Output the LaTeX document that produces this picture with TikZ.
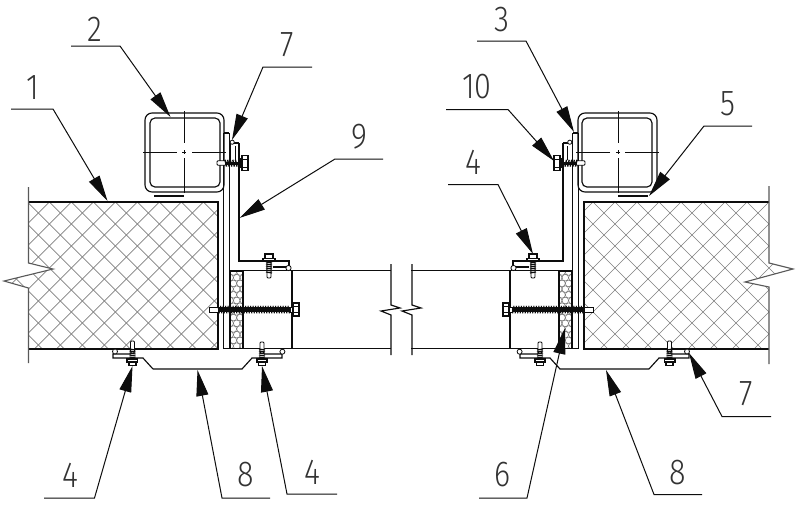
\documentclass[tikz,border=0pt]{standalone}
\usepackage{fontspec}
\setmainfont[FakeStretch=0.85]{Fira Sans Light}
\usetikzlibrary{arrows.meta}
\definecolor{ink}{gray}{0.05}
\tikzset{
  thickline/.style={draw=ink,line width=1.35pt,line join=miter},
  midline/.style={draw=ink,line width=1.15pt},
  thinline/.style={draw=ink,line width=0.8pt},
  sideline/.style={draw=black!65,line width=1.1pt},
  hatchline/.style={draw=black!50,line width=0.65pt},
  foamdot/.style={draw=black!60,line width=0.45pt},
  leader/.style={draw=ink,line width=1pt,-{Triangle[length=26pt,width=12pt]}},
  numlabel/.style={font=\fontsize{36}{36}\selectfont,text=black!80,inner sep=0pt,anchor=center},
}
\newcommand{\halfassembly}{%
  % square tube
  \draw[midline,rounded corners=7pt] (145,113) rectangle (224,192);
  \draw[midline,rounded corners=5pt] (150,118) rectangle (220,187);
  % centre lines
  \draw[thinline] (184,111) -- (184,143) (184,158) -- (184,193)
                  (143,152) -- (177,152) (192,152) -- (226,152)
                  (182,152) -- (186,152) (184,150) -- (184,154);
  \draw[thickline] (154,196) -- (184,196);
  % uprights
  \draw[midline] (224,133) -- (229,133);
  \draw[midline] (223.5,133) -- (223.5,348.5) -- (243,348.5);
  \draw[midline] (229.5,133) -- (229.5,348.5);
  \draw[midline] (231,143) -- (239,143);
  \draw[midline] (239,143) -- (239,261) -- (289,261) -- (289,267);
  \draw[thinline] (230,160) -- (230,143) (235,146) -- (235,160);
  \draw[thinline,fill=white] (232.2,142.2) circle (2.1);
  % upper screw
  \draw[thinline,fill=white,rounded corners=1pt] (217,160.8) rectangle (226,165.2);
  \fill[ink] (225,161.5) rectangle (238,165);
  \foreach \t in {225,227.6,...,237} \draw[line width=1.4pt,draw=ink] (\t,159.8) -- (\t+1.6,166.6);
  \draw[midline,fill=white] (240,159) rectangle (242,167);
  \draw[midline,fill=white] (242,155.5) rectangle (248,170.5);
  \draw[thinline] (242,159) -- (248,159) (242,167) -- (248,167);
  % foam strip
  \begin{scope}
    \clip (230,271) rectangle (243,348.5);
    \foreach \r in {0,...,7} {
      \draw[foamdot] (233.4,{272+11.4*\r}) circle (3.3);
      \draw[foamdot] (240,{272+11.4*\r}) circle (3.3);
      \draw[foamdot] (236.7,{277.7+11.4*\r}) circle (3.3);
      \draw[foamdot] (230.1,{277.7+11.4*\r}) circle (3.3);
      \draw[foamdot] (243.3,{277.7+11.4*\r}) circle (3.3);
    }
  \end{scope}
  \draw[midline] (230,271) rectangle (243,348.5);
  % box section
  \draw[midline] (243,270.5) -- (292,270.5) -- (292,348.5) -- (243,348.5);
  \draw[thickline] (292,270.5) -- (391,270.5) (292,348.5) -- (391,348.5);
  % through bolt
  \draw[thinline,fill=white] (209,307.5) rectangle (218,312);
  \fill[ink] (218,307) rectangle (290,312);
  \foreach \t in {218,220.5,...,288} \draw[line width=1.1pt,draw=ink] (\t,305.8) -- (\t+1.4,313.4);
  \draw[thinline,fill=white] (290,307) rectangle (292.5,312);
  \draw[midline,fill=white] (293,303) rectangle (299,316);
  \draw[thinline] (293,306.5) -- (299,306.5) (293,312.5) -- (299,312.5);
  % top clip and screw
  \draw[midline] (273,267) -- (286,267);
  \draw[thinline,fill=white] (288.5,268) circle (2.6);
  \draw[thinline,fill=white,rounded corners=1pt] (267,262) rectangle (271,278);
  \foreach \t in {262,264,...,272} \draw[line width=1.2pt,draw=ink] (266,\t) -- (272,\t+1);
  \draw[midline,fill=white] (263,258.5) rectangle (275,261);
  \draw[midline,fill=white] (265,254) rectangle (273,258.5);
  % bottom clip 1
  \draw[midline] (153,369) -- (242,369) -- (252,358) -- (282,358) -- (282,354) -- (264,354);
  \draw[thinline,fill=white] (282.4,351.7) circle (2.5);
  \draw[thinline,fill=white,rounded corners=1pt] (260,342) rectangle (264,353);
  \foreach \t in {349,351,...,357} \draw[line width=1.2pt,draw=ink] (259,\t) -- (265,\t+1);
  \draw[midline,fill=white] (257,359) rectangle (267,362);
  \draw[midline,fill=white] (258.5,362) rectangle (265.5,365.5);
  % bottom clip 2
  \draw[midline] (153,369) -- (143,358) -- (113,358) -- (113,354) -- (131,354);
  \draw[thinline,fill=white] (115,351.5) circle (2.5);
  \draw[thinline,fill=white,rounded corners=1pt] (130.5,341) rectangle (134.5,353);
  \foreach \t in {349,351,...,357} \draw[line width=1.2pt,draw=ink] (129.5,\t) -- (135.5,\t+1);
  \draw[midline,fill=white] (127,359) rectangle (137.5,362);
  \draw[midline,fill=white] (129,362) rectangle (136,365.5);
}
\begin{document}
\begin{tikzpicture}[x=1pt,y=-1pt]
\useasboundingbox (0,0) rectangle (800,509);
\fill[white] (0,0) rectangle (800,509);
% insulated panels: hatching
\begin{scope}
  \clip (28.5,202) -- (28.5,263) -- (53,269) -- (4,281) -- (28.5,288) -- (28.5,349) -- (218,349) -- (218,202) -- cycle;
  \foreach \k in {-1,...,15} \draw[hatchline] ({251.3+22*\k-190},190) -- ({251.3+22*\k-360},360);
  \foreach \k in {-8,...,8} \draw[hatchline] ({-152.7+22*\k+190},190) -- ({-152.7+22*\k+360},360);
\end{scope}
\begin{scope}
  \clip (584,202) -- (584,349) -- (769,349) -- (769,287) -- (745,282) -- (793,269) -- (769,263) -- (769,202) -- cycle;
  \foreach \k in {-1,...,16} \draw[hatchline] ({795+22*\k-190},190) -- ({795+22*\k-360},360);
  \foreach \k in {-8,...,10} \draw[hatchline] ({391+22*\k+190},190) -- ({391+22*\k+360},360);
\end{scope}
% left panel outline
\draw[thickline] (28.5,202) -- (218,202) -- (218,349) -- (28.5,349);
\draw[sideline] (28.5,187) -- (28.5,263) -- (53,269) -- (4,281) -- (28.5,288) -- (28.5,363);
% right panel outline
\draw[thickline] (769,202) -- (584,202) -- (584,349) -- (769,349);
\draw[sideline] (769,186) -- (769,263) -- (793,269) -- (745,282) -- (769,287) -- (769,364);
% assemblies
\halfassembly
\begin{scope}[xshift=802pt,xscale=-1]
  \halfassembly
\end{scope}
% break lines of the central panel
\draw[midline] (391,264) -- (391,305) -- (400,308) -- (381,311) -- (391,315) -- (391,355);
\draw[midline] (412,264) -- (412,305) -- (421,308) -- (402,311) -- (412,315) -- (412,355);
% label nodes
\node[numlabel] (n1)  at (33,88)   {1};
\node[numlabel] (n2)  at (95,29)   {2};
\node[numlabel] (n7a) at (287,45)  {7};
\node[numlabel] (n9)  at (359,137) {9};
\node[numlabel] (n3)  at (502,20)  {3};
\node[numlabel] (n10) at (477,87)  {10};
\node[numlabel] (n5)  at (728,104) {5};
\node[numlabel] (n4a) at (473,162) {4};
\node[numlabel] (n4b) at (70,475)  {4};
\node[numlabel] (n8a) at (246,475) {8};
\node[numlabel] (n4c) at (312,472) {4};
\node[numlabel] (n6)  at (503,475) {6};
\node[numlabel] (n8b) at (678,473) {8};
\node[numlabel] (n7b) at (746,394) {7};
% leader anchors
\coordinate (s1a) at (11,109);   \coordinate (s1b) at (53,109);   \coordinate (t1) at (107.5,201);
\coordinate (s2a) at (71,46);    \coordinate (s2b) at (120,46);   \coordinate (t2) at (170.5,117);
\coordinate (s7a) at (312,67);   \coordinate (s7b) at (263,67);   \coordinate (t7) at (232,140);
\coordinate (s9a) at (383,159);  \coordinate (s9b) at (335,159);  \coordinate (t9) at (239.5,218);
\coordinate (s3a) at (477,41);   \coordinate (s3b) at (526,41);   \coordinate (t3) at (574,132);
\coordinate (s10a) at (446,109.5); \coordinate (s10b) at (508,109.5); \coordinate (t10) at (554,161);
\coordinate (s5a) at (752,126);  \coordinate (s5b) at (704,126);  \coordinate (t5) at (649,196);
\coordinate (s4a) at (448,184.5);\coordinate (s4b) at (498,184.5);\coordinate (t4) at (533,254);
\coordinate (s4c) at (44,498);   \coordinate (s4d) at (94.5,498); \coordinate (t4b) at (132.5,366);
\coordinate (s8a) at (270,498);  \coordinate (s8b) at (222,498);  \coordinate (t8) at (197.5,370);
\coordinate (s4e) at (337,494);  \coordinate (s4f) at (287,494);  \coordinate (t4c) at (262,366);
\coordinate (s6a) at (479,498);  \coordinate (s6b) at (527,498);  \coordinate (t6) at (565,328);
\coordinate (s8c) at (702,494.5);\coordinate (s8d) at (654,494.5);\coordinate (t8b) at (606,370);
\coordinate (s7c) at (771,416.5);\coordinate (s7d) at (722,416.5);\coordinate (t7b) at (689,353);
% leaders
\draw[leader] (s1a) -- (s1b) -- (t1);
\draw[leader] (s2a) -- (s2b) -- (t2);
\draw[leader] (s7a) -- (s7b) -- (t7);
\draw[leader] (s9a) -- (s9b) -- (t9);
\draw[leader] (s3a) -- (s3b) -- (t3);
\draw[leader] (s10a) -- (s10b) -- (t10);
\draw[leader] (s5a) -- (s5b) -- (t5);
\draw[leader] (s4a) -- (s4b) -- (t4);
\draw[leader] (s4c) -- (s4d) -- (t4b);
\draw[leader] (s8a) -- (s8b) -- (t8);
\draw[leader] (s4e) -- (s4f) -- (t4c);
\draw[leader] (s6a) -- (s6b) -- (t6);
\draw[leader] (s8c) -- (s8d) -- (t8b);
\draw[leader] (s7c) -- (s7d) -- (t7b);
\end{tikzpicture}
\end{document}
